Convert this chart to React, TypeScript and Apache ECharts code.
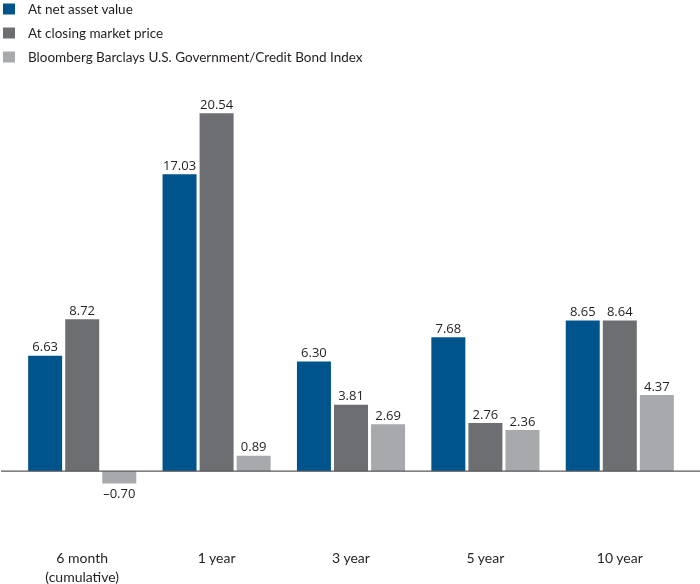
import React, { useEffect, useRef } from "react";
import * as echarts from "echarts";

const categories = ["6 month\n(cumulative)", "1 year", "3 year", "5 year", "10 year"];
const seriesNames = [
  "At net asset value",
  "At closing market price",
  "Bloomberg Barclays U.S. Government/Credit Bond Index",
];
const navValues = [6.63, 17.03, 6.3, 7.68, 8.65];
const marketValues = [8.72, 20.54, 3.81, 2.76, 8.64];
const indexValues = [-0.7, 0.89, 2.69, 2.36, 4.37];
const colors = ["#00548c", "#6d6e71", "#a7a9ac"];

const FONT = "'Open Sans', 'Noto Sans', sans-serif";
const LEGEND_FONT = "Lato, 'Open Sans', sans-serif";

function fmt(v: number): string {
  return v < 0 ? "\u2013" + Math.abs(v).toFixed(2) : v.toFixed(2);
}

export default function App() {
  const ref = useRef<HTMLDivElement>(null);
  useEffect(() => {
    if (!ref.current) return;
    const chart = echarts.init(ref.current, undefined, { renderer: "svg" });
    const allData = [navValues, marketValues, indexValues];
    const series = allData.map((vals, i) => ({
      name: seriesNames[i],
      type: "bar",
      barWidth: 34,
      barGap: "9%",
      itemStyle: { color: colors[i] },
      data: vals.map((v) => ({
        value: v,
        label: {
          show: true,
          position: v < 0 ? "bottom" : "top",
          distance: 3,
          formatter: () => fmt(v),
          color: "#231f20",
          fontSize: 13,
          fontFamily: FONT,
        },
      })),
    }));
    chart.setOption({
      animation: false,
      color: colors,
      legend: {
        orient: "vertical",
        left: 3,
        top: 2,
        padding: 0,
        itemWidth: 12,
        itemHeight: 11,
        itemGap: 10,
        icon: "rect",
        selectedMode: false,
        textStyle: {
          fontSize: 13.5,
          fontFamily: LEGEND_FONT,
          color: "#231f20",
          padding: [0, 0, 0, 8],
        },
        data: seriesNames,
      },
      grid: { left: 15, right: 13, top: 79, bottom: 60.5, outerBoundsMode: "none", containLabel: false },
      xAxis: {
        type: "category",
        data: categories,
        axisLine: { show: false },
        axisTick: { show: false },
        axisLabel: {
          margin: 24,
          fontSize: 14,
          lineHeight: 19,
          fontFamily: LEGEND_FONT,
          color: "#231f20",
        },
      },
      yAxis: {
        type: "value",
        min: -3,
        max: 22.5,
        show: false,
        splitLine: { show: false },
      },
      series,
    });
    const y0 = chart.convertToPixel({ yAxisIndex: 0 }, 0) as number;
    chart.setOption({
      graphic: [
        {
          type: "line",
          shape: { x1: 1, y1: y0, x2: 700, y2: y0 },
          style: { stroke: "#58595b", lineWidth: 1.2 },
          z: 10,
        },
      ],
    });
    return () => chart.dispose();
  }, []);
  return (
    <div
      ref={ref}
      style={{ position: "fixed", left: 0, top: 0, width: 700, height: 584 }}
    />
  );
}
